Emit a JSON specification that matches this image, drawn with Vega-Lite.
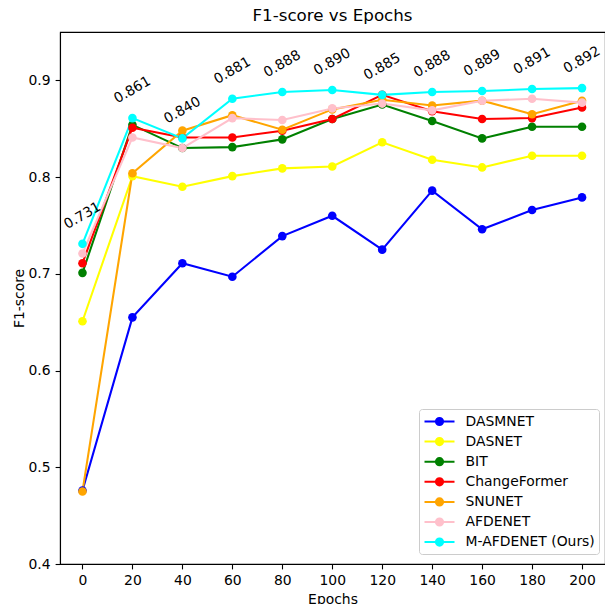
{
  "$schema": "https://vega.github.io/schema/vega-lite/v6.json",
  "width": 545,
  "height": 532,
  "autosize": {"type": "none"},
  "padding": {"left": 60, "top": 32, "right": 0, "bottom": 40},
  "background": "white",
  "title": {"text": "F1-score vs Epochs", "fontSize": 16.7, "font": "DejaVu Sans", "fontWeight": "normal", "color": "#000", "offset": 7, "anchor": "middle"},
  "data": {"values": [
    {"model": "DASMNET", "epoch": 0, "f1": 0.476}, {"model": "DASMNET", "epoch": 20, "f1": 0.655}, {"model": "DASMNET", "epoch": 40, "f1": 0.711}, {"model": "DASMNET", "epoch": 60, "f1": 0.697}, {"model": "DASMNET", "epoch": 80, "f1": 0.739}, {"model": "DASMNET", "epoch": 100, "f1": 0.760}, {"model": "DASMNET", "epoch": 120, "f1": 0.725}, {"model": "DASMNET", "epoch": 140, "f1": 0.786}, {"model": "DASMNET", "epoch": 160, "f1": 0.746}, {"model": "DASMNET", "epoch": 180, "f1": 0.766}, {"model": "DASMNET", "epoch": 200, "f1": 0.779},
    {"model": "DASNET", "epoch": 0, "f1": 0.651}, {"model": "DASNET", "epoch": 20, "f1": 0.801}, {"model": "DASNET", "epoch": 40, "f1": 0.790}, {"model": "DASNET", "epoch": 60, "f1": 0.801}, {"model": "DASNET", "epoch": 80, "f1": 0.809}, {"model": "DASNET", "epoch": 100, "f1": 0.811}, {"model": "DASNET", "epoch": 120, "f1": 0.836}, {"model": "DASNET", "epoch": 140, "f1": 0.818}, {"model": "DASNET", "epoch": 160, "f1": 0.810}, {"model": "DASNET", "epoch": 180, "f1": 0.822}, {"model": "DASNET", "epoch": 200, "f1": 0.822},
    {"model": "BIT", "epoch": 0, "f1": 0.701}, {"model": "BIT", "epoch": 20, "f1": 0.854}, {"model": "BIT", "epoch": 40, "f1": 0.830}, {"model": "BIT", "epoch": 60, "f1": 0.831}, {"model": "BIT", "epoch": 80, "f1": 0.839}, {"model": "BIT", "epoch": 100, "f1": 0.860}, {"model": "BIT", "epoch": 120, "f1": 0.875}, {"model": "BIT", "epoch": 140, "f1": 0.858}, {"model": "BIT", "epoch": 160, "f1": 0.840}, {"model": "BIT", "epoch": 180, "f1": 0.852}, {"model": "BIT", "epoch": 200, "f1": 0.852},
    {"model": "ChangeFormer", "epoch": 0, "f1": 0.711}, {"model": "ChangeFormer", "epoch": 20, "f1": 0.851}, {"model": "ChangeFormer", "epoch": 40, "f1": 0.841}, {"model": "ChangeFormer", "epoch": 60, "f1": 0.841}, {"model": "ChangeFormer", "epoch": 80, "f1": 0.848}, {"model": "ChangeFormer", "epoch": 100, "f1": 0.860}, {"model": "ChangeFormer", "epoch": 120, "f1": 0.885}, {"model": "ChangeFormer", "epoch": 140, "f1": 0.868}, {"model": "ChangeFormer", "epoch": 160, "f1": 0.860}, {"model": "ChangeFormer", "epoch": 180, "f1": 0.861}, {"model": "ChangeFormer", "epoch": 200, "f1": 0.872},
    {"model": "SNUNET", "epoch": 0, "f1": 0.475}, {"model": "SNUNET", "epoch": 20, "f1": 0.804}, {"model": "SNUNET", "epoch": 40, "f1": 0.848}, {"model": "SNUNET", "epoch": 60, "f1": 0.864}, {"model": "SNUNET", "epoch": 80, "f1": 0.849}, {"model": "SNUNET", "epoch": 100, "f1": 0.870}, {"model": "SNUNET", "epoch": 120, "f1": 0.880}, {"model": "SNUNET", "epoch": 140, "f1": 0.874}, {"model": "SNUNET", "epoch": 160, "f1": 0.879}, {"model": "SNUNET", "epoch": 180, "f1": 0.865}, {"model": "SNUNET", "epoch": 200, "f1": 0.879},
    {"model": "AFDENET", "epoch": 0, "f1": 0.721}, {"model": "AFDENET", "epoch": 20, "f1": 0.841}, {"model": "AFDENET", "epoch": 40, "f1": 0.830}, {"model": "AFDENET", "epoch": 60, "f1": 0.861}, {"model": "AFDENET", "epoch": 80, "f1": 0.859}, {"model": "AFDENET", "epoch": 100, "f1": 0.871}, {"model": "AFDENET", "epoch": 120, "f1": 0.876}, {"model": "AFDENET", "epoch": 140, "f1": 0.869}, {"model": "AFDENET", "epoch": 160, "f1": 0.879}, {"model": "AFDENET", "epoch": 180, "f1": 0.881}, {"model": "AFDENET", "epoch": 200, "f1": 0.877},
    {"model": "M-AFDENET (Ours)", "epoch": 0, "f1": 0.731}, {"model": "M-AFDENET (Ours)", "epoch": 20, "f1": 0.861}, {"model": "M-AFDENET (Ours)", "epoch": 40, "f1": 0.840}, {"model": "M-AFDENET (Ours)", "epoch": 60, "f1": 0.881}, {"model": "M-AFDENET (Ours)", "epoch": 80, "f1": 0.888}, {"model": "M-AFDENET (Ours)", "epoch": 100, "f1": 0.890}, {"model": "M-AFDENET (Ours)", "epoch": 120, "f1": 0.885}, {"model": "M-AFDENET (Ours)", "epoch": 140, "f1": 0.888}, {"model": "M-AFDENET (Ours)", "epoch": 160, "f1": 0.889}, {"model": "M-AFDENET (Ours)", "epoch": 180, "f1": 0.891}, {"model": "M-AFDENET (Ours)", "epoch": 200, "f1": 0.892}
  ]},
  "encoding": {
    "x": {"field": "epoch", "type": "quantitative", "scale": {"domain": [-9, 209.2], "nice": false, "zero": false}, "axis": {"values": [0, 20, 40, 60, 80, 100, 120, 140, 160, 180, 200], "title": "Epochs", "titlePadding": 5}},
    "y": {"field": "f1", "type": "quantitative", "scale": {"domain": [0.4, 0.95], "nice": false, "zero": false}, "axis": {"values": [0.4, 0.5, 0.6, 0.7, 0.8, 0.9], "format": ".1f", "title": "F1-score"}},
    "color": {
      "field": "model", "type": "nominal",
      "scale": {"domain": ["DASMNET", "DASNET", "BIT", "ChangeFormer", "SNUNET", "AFDENET", "M-AFDENET (Ours)"], "range": ["#0000ff", "#ffff00", "#008000", "#ff0000", "#ffa500", "#ffc0cb", "#00ffff"]},
      "legend": {
        "orient": "none", "legendX": 359, "legendY": 377, "title": null,
        "labelExpr": "(datum.label == 'DASMNET' || datum.label == 'DASNET') ? '\u00a0' + datum.label : datum.label",
        "symbolType": "M-1.875,0L1.875,0M0.45,0A0.45,0.45,0,1,1,-0.45,0A0.45,0.45,0,1,1,0.45,0Z",
        "symbolSize": 256, "symbolStrokeWidth": 2, "symbolOpacity": 1, "symbolOffset": 8,
        "labelFont": "DejaVu Sans", "labelFontSize": 13.9, "labelColor": "#000", "labelOffset": 17,
        "padding": 3.5, "rowPadding": 3.1,
        "strokeColor": "#cccccc", "fillColor": "rgba(255,255,255,0.8)", "cornerRadius": 3,
        "encode": {"symbols": {"update": {"stroke": {"signal": "scale('color', datum.value)"}, "fill": {"signal": "scale('color', datum.value)"}, "opacity": {"value": 1}}}}
      }
    }
  },
  "layer": [
    {"mark": {"type": "line", "strokeWidth": 2.08}},
    {"mark": {"type": "point", "filled": true, "size": 74, "opacity": 1}},
    {"transform": [{"filter": "datum.model == 'M-AFDENET (Ours)'"}],
     "mark": {"type": "text", "angle": -30, "dx": 14, "dy": -24.2, "align": "center", "baseline": "middle", "font": "DejaVu Sans", "fontSize": 13.9},
     "encoding": {"text": {"field": "f1", "type": "quantitative", "format": ".3f"}, "color": {"value": "#000000"}}}
  ],
  "config": {
    "font": "DejaVu Sans",
    "view": {"stroke": "#000", "strokeWidth": 1.1},
    "axis": {"grid": false, "domainColor": "#000", "domainWidth": 1.1, "tickColor": "#000", "tickWidth": 1.1, "tickSize": 4.9, "labelColor": "#000", "labelFont": "DejaVu Sans", "labelFontSize": 13.9, "labelPadding": 5, "titleColor": "#000", "titleFont": "DejaVu Sans", "titleFontSize": 13.9, "titleFontWeight": "normal", "titlePadding": 2, "labelFlush": false, "labelOverlap": false}
  }
}
